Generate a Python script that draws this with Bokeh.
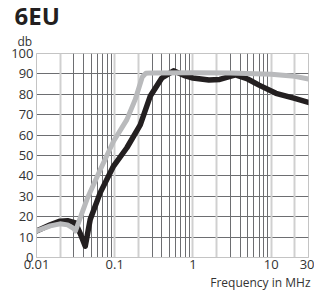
from bokeh.plotting import figure
from bokeh.models import Grid, FixedTicker, Title
from bokeh.embed import file_html
from bokeh.resources import INLINE

# Data (frequency in MHz, level in db)
freq_black = [0.01, 0.015, 0.02, 0.025, 0.0315, 0.036, 0.042, 0.0486, 0.0653, 0.0966,
              0.143, 0.212, 0.284, 0.4, 0.565, 0.8, 1.0, 1.6, 2.2, 3.5, 5, 7, 11.5, 20, 30]
db_black = [13, 16, 17.8, 18, 17, 12, 5.5, 18.6, 31.8, 44.8,
            53.8, 65, 79, 88, 91.5, 89, 88, 87, 87.3, 89.5, 87.5, 84.5, 80.5, 78, 76]

freq_gray = [0.01, 0.015, 0.02, 0.025, 0.03, 0.0315, 0.044, 0.0653, 0.0966, 0.143,
             0.183, 0.225, 0.25, 0.3, 1, 3, 10, 20, 30]
db_gray = [13, 15.5, 16.5, 16, 14.2, 13, 28.4, 43, 57, 67.6,
           77.5, 88.5, 90.3, 90.5, 90.6, 90.5, 89.8, 88.8, 87.5]

x_ticks = [0.01, 0.1, 1, 10, 30]
y_ticks = [0, 10, 20, 30, 40, 50, 60, 70, 80, 90, 100]
minor_grid = [0.03, 0.04, 0.05, 0.06, 0.07, 0.08, 0.09,
              0.3, 0.4, 0.5, 0.6, 0.7, 0.8, 0.9,
              3, 4, 5, 6, 7, 8, 9]
light_grid = [0.02, 0.1, 0.2, 1, 2, 10, 20]

FONT = "Open Sans"
TXT = "#333333"

p = figure(frame_width=272, frame_height=204, x_axis_type="log", x_range=(0.01, 30), y_range=(0, 100),
           output_backend="svg", toolbar_location=None,
           min_border_left=0, min_border_right=6, min_border_top=0, min_border_bottom=0)
p.margin = (0, 0, 0, 8)

p.title.text = "6EU"
p.title.text_font = FONT
p.title.text_font_size = "24px"
p.title.text_font_style = "bold"
p.title.text_color = "#231f20"
p.title.offset = -22
p.title.standoff = -8

p.add_layout(Title(text="db", text_font=FONT, text_font_size="12px", text_font_style="normal",
                   text_color=TXT, offset=-19, standoff=7), "above")
p.add_layout(Title(text="Frequency in MHz", text_font=FONT, text_font_size="12px",
                   text_font_style="normal", text_color=TXT, align="right", offset=-2,
                   standoff=0), "below")

p.outline_line_color = "#c4c4c4"
p.outline_line_width = 1
p.background_fill_color = "white"
p.border_fill_color = "white"

# grids
p.xgrid.grid_line_color = None
p.ygrid.ticker = FixedTicker(ticks=y_ticks)
p.ygrid.grid_line_color = "#6d6e71"
p.ygrid.grid_line_width = 1
p.add_layout(Grid(dimension=0, ticker=FixedTicker(ticks=minor_grid),
                  grid_line_color="#6d6e71", grid_line_width=1))
p.add_layout(Grid(dimension=0, ticker=FixedTicker(ticks=light_grid),
                  grid_line_color="#d0d0d0", grid_line_width=2))

# axes
for ax in (p.xaxis[0], p.yaxis[0]):
    ax.major_tick_line_color = None
    ax.minor_tick_line_color = None
    ax.major_tick_out = 0
    ax.major_tick_in = 0
    ax.axis_line_color = "#c4c4c4"
    ax.major_label_text_font = FONT
    ax.major_label_text_font_size = "13px"
    ax.major_label_text_color = TXT

p.xaxis.ticker = FixedTicker(ticks=x_ticks)
p.xaxis.major_label_overrides = {0.01: "0.01", 0.1: "0.1", 1: "1", 10: "10", 30: "30"}
p.xaxis.major_label_standoff = 2
p.yaxis.ticker = FixedTicker(ticks=y_ticks)
p.yaxis.major_label_standoff = 3

p.line(freq_black, db_black, line_color="#231f20", line_width=5.5, line_join="round", line_cap="round")
p.line(freq_gray, db_gray, line_color="#b9babc", line_width=5, line_join="round", line_cap="round")

open("out.html", "w").write(file_html(p, INLINE))
